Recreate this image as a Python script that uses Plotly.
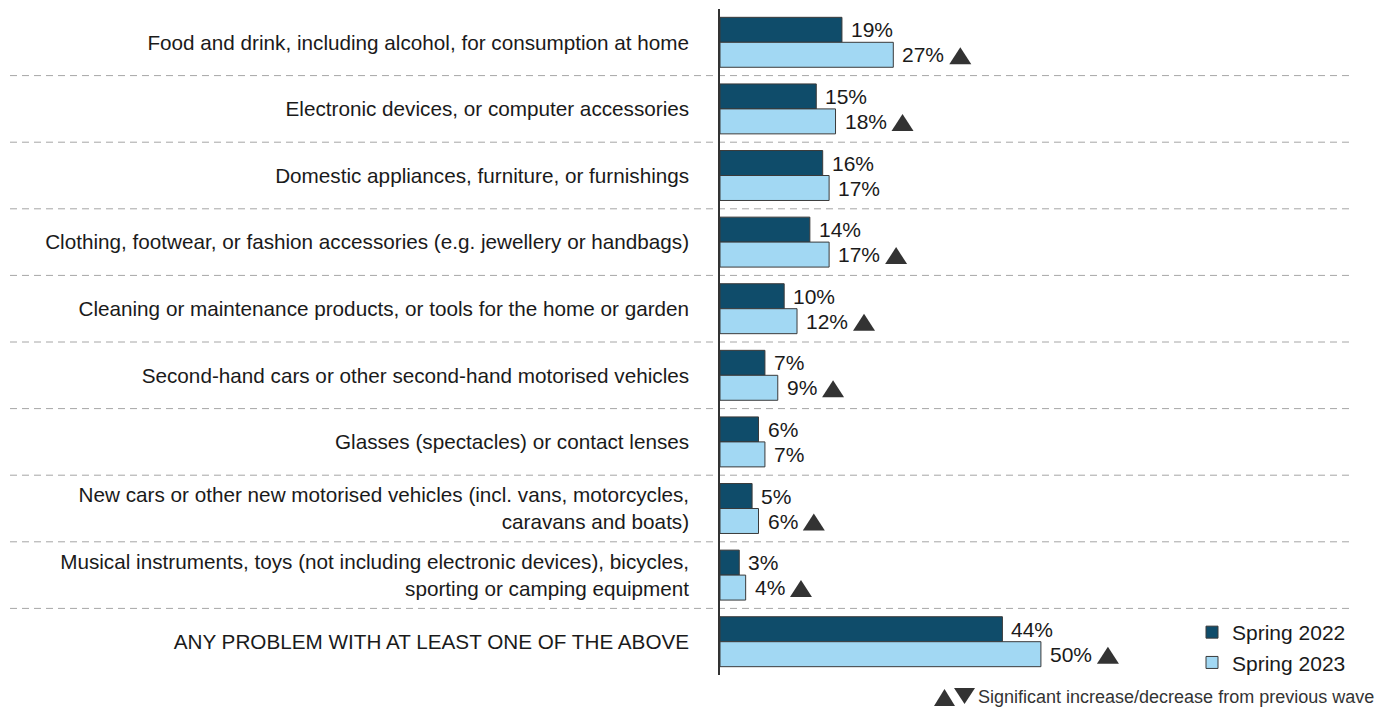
import plotly.graph_objects as go

categories = [
    "Food and drink, including alcohol, for consumption at home",
    "Electronic devices, or computer accessories",
    "Domestic appliances, furniture, or furnishings",
    "Clothing, footwear, or fashion accessories (e.g. jewellery or handbags)",
    "Cleaning or maintenance products, or tools for the home or garden",
    "Second-hand cars or other second-hand motorised vehicles",
    "Glasses (spectacles) or contact lenses",
    "New cars or other new motorised vehicles (incl. vans, motorcycles,<br>caravans and boats)",
    "Musical instruments, toys (not including electronic devices), bicycles,<br>sporting or camping equipment",
    "ANY PROBLEM WITH AT LEAST ONE OF THE ABOVE",
]
spring_2022 = [19, 15, 16, 14, 10, 7, 6, 5, 3, 44]
spring_2023 = [27, 18, 17, 17, 12, 9, 7, 6, 4, 50]
sig_up_2023 = [True, True, False, True, True, True, False, True, True, True]

FONT = "Arial, 'Liberation Sans', sans-serif"
DARK = "#0F4C6A"
LIGHT = "#A2D8F3"
EDGE = "#3A3A3A"
TRI_COLOR = "#333333"
CAT_SIZE = 20.7
VAL_SIZE = 21
X_MAX = 98

# plot area in pixels
W, H = 1389, 708
PLOT_L, PLOT_W = 720, 629
PLOT_T, PLOT_B = 9, 675
PLOT_H = PLOT_B - PLOT_T

fig = go.Figure()
fig.add_trace(go.Bar(
    y=categories, x=spring_2022, orientation="h", name="Spring 2022",
    marker=dict(color=DARK, line=dict(color=EDGE, width=1)),
))
fig.add_trace(go.Bar(
    y=categories, x=spring_2023, orientation="h", name="Spring 2023",
    marker=dict(color=LIGHT, line=dict(color=EDGE, width=1)),
))


def label_width(text, size):
    """Approximate rendered width of a percentage label (Arial metrics)."""
    return sum(0.889 * size if ch == "%" else 0.556 * size for ch in text)


def px(xp):
    return (xp - PLOT_L) / PLOT_W


def py(yp):
    return (PLOT_B - yp) / PLOT_H


annotations = []
shapes = []

# value labels beside each bar; up-triangle after significant increases
for i, (v22, v23, up) in enumerate(zip(spring_2022, spring_2023, sig_up_2023)):
    annotations.append(dict(
        x=v22, y=i, xref="x", yref="y", text=f"{v22}%",
        xanchor="left", yanchor="middle", xshift=7, yshift=12.5,
        showarrow=False, font=dict(size=VAL_SIZE, color="#1A1A1A", family=FONT),
    ))
    annotations.append(dict(
        x=v23, y=i, xref="x", yref="y", text=f"{v23}%",
        xanchor="left", yanchor="middle", xshift=7, yshift=-12.5,
        showarrow=False, font=dict(size=VAL_SIZE, color="#1A1A1A", family=FONT),
    ))
    if up:
        left = 9 + label_width(f"{v23}%", VAL_SIZE) + 5
        shapes.append(dict(
            type="path", xref="x", yref="y",
            xsizemode="pixel", ysizemode="pixel", xanchor=v23, yanchor=i,
            path=f"M{left:.1f},-22 L{left + 22:.1f},-22 L{left + 11:.1f},-5 Z",
            fillcolor=TRI_COLOR, line=dict(width=0),
        ))

# dashed separators between categories, running under the labels too
for i in range(len(categories) - 1):
    shapes.append(dict(
        type="line", xref="paper", yref="y", x0=px(10), x1=1.0,
        y0=i + 0.5, y1=i + 0.5,
        line=dict(color="#A6A6A6", width=1, dash="7px,5px"), layer="below",
    ))

# key for the significance markers below the chart
shapes.append(dict(
    type="path", xref="paper", yref="paper",
    path=f"M{px(934)},{py(706)} L{px(955)},{py(706)} L{px(944.5)},{py(689)} Z",
    fillcolor=TRI_COLOR, line=dict(width=0),
))
shapes.append(dict(
    type="path", xref="paper", yref="paper",
    path=f"M{px(954)},{py(688)} L{px(975)},{py(688)} L{px(964.5)},{py(704)} Z",
    fillcolor=TRI_COLOR, line=dict(width=0),
))
annotations.append(dict(
    x=px(1376), y=py(697), xref="paper", yref="paper", xanchor="right", yanchor="middle",
    text="Significant increase/decrease from previous wave",
    showarrow=False, font=dict(size=18, color="#333333", family=FONT),
))

fig.update_layout(
    width=W, height=H,
    margin=dict(l=PLOT_L, r=W - PLOT_L - PLOT_W, t=PLOT_T, b=H - PLOT_B),
    paper_bgcolor="white", plot_bgcolor="white",
    barmode="group", bargap=0.25, bargroupgap=0,
    font=dict(family=FONT, size=CAT_SIZE, color="#1A1A1A"),
    xaxis=dict(range=[0, X_MAX], showgrid=False, zeroline=False, showticklabels=False,
               showline=False, ticks=""),
    yaxis=dict(autorange="reversed", showgrid=False, zeroline=False,
               showline=True, linecolor="#333333", linewidth=1.5,
               ticks="", ticklabelstandoff=25,
               tickfont=dict(size=CAT_SIZE, color="#1A1A1A", family=FONT)),
    legend=dict(x=px(1192), y=py(612), xanchor="left", yanchor="top",
                font=dict(size=21, color="#1A1A1A", family=FONT),
                bgcolor="rgba(0,0,0,0)", traceorder="normal", itemwidth=30),
    annotations=annotations,
    shapes=shapes,
)

fig.write_html("out.html")
